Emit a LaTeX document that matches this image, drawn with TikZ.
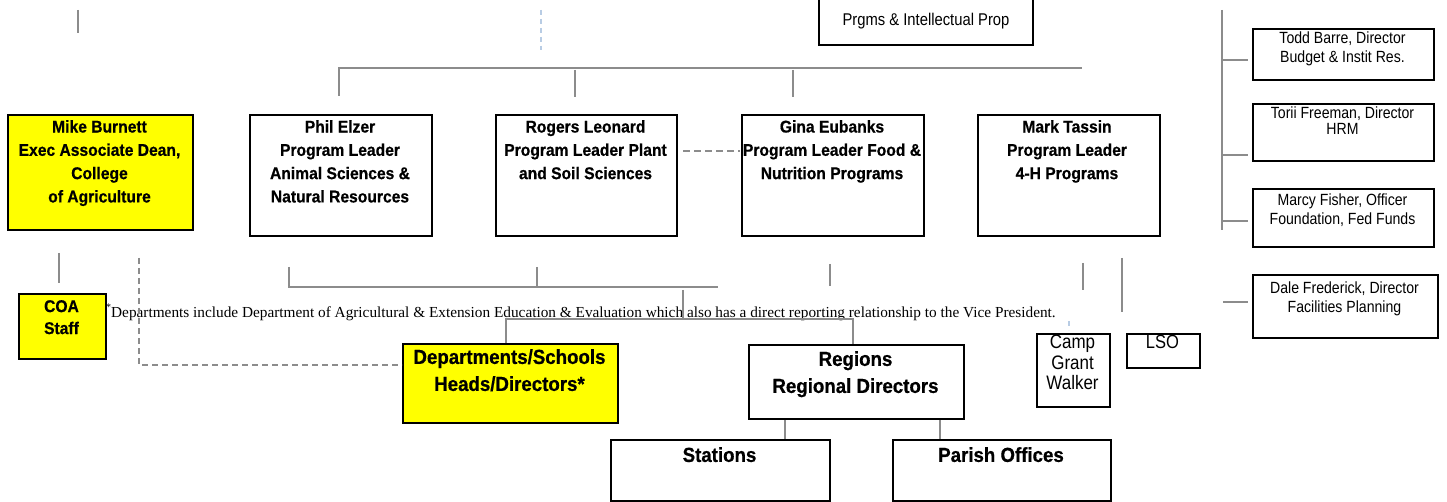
\documentclass[tikz,border=0pt]{standalone}
\usepackage{fontspec}
\newfontfamily\sansn[FakeStretch=0.87]{Liberation Sans}
\newfontfamily\sansb[FakeStretch=0.92, BoldFeatures={FakeBold=0.6}]{Liberation Sans}
\newfontfamily\serifn{Liberation Serif}
\definecolor{conn}{HTML}{8C8C8C}
\definecolor{lblue}{HTML}{B8CCE4}
\definecolor{boxyellow}{HTML}{FFFF00}
\tikzset{
  box/.style={draw=black, line width=2pt, inner sep=0pt, anchor=north west},
  ybox/.style={box, fill=boxyellow},
  ttl/.style={anchor=north, inner sep=0pt, align=center, font=\sansb\bfseries\fontsize{17}{23.3}\selectfont},
  bigttl/.style={anchor=north, inner sep=0pt, align=center, font=\sansb\bfseries\fontsize{20.3}{27}\selectfont},
  sml/.style={anchor=north, inner sep=0pt, align=center, font=\sansn\fontsize{16.2}{19}\selectfont},
  conline/.style={draw=conn, line width=2.6pt},
  condash/.style={draw=conn, line width=2pt, dash pattern=on 6pt off 4pt},
  bluedash/.style={draw=lblue, line width=2pt, dash pattern=on 5pt off 4pt},
}
\begin{document}
\begin{tikzpicture}[x=1pt,y=-1pt]
\useasboundingbox (0,0) rectangle (1447,502);
\fill[white] (0,0) rectangle (1447,502);

% ---------- boxes ----------
\node[ybox, minimum width=185pt, minimum height=115pt] (mike) at (7,114) {};
\node[ttl] (miket) at (99.5,120) {Mike Burnett\\Exec Associate Dean,\\College\\of Agriculture};

\node[box, minimum width=182pt, minimum height=121pt] (phil) at (249,114) {};
\node[ttl] (philt) at (340,120) {Phil Elzer\\Program Leader\\Animal Sciences \&\\Natural Resources};

\node[box, minimum width=181pt, minimum height=121pt] (rogers) at (495,114) {};
\node[ttl] (rogerst) at (585.5,120) {Rogers Leonard\\Program Leader Plant\\and Soil Sciences};

\node[box, minimum width=182pt, minimum height=121pt] (gina) at (741,114) {};
\node[ttl] (ginat) at (832,120) {Gina Eubanks\\Program Leader Food \&\\Nutrition Programs};

\node[box, minimum width=182pt, minimum height=121pt] (mark) at (977,114) {};
\node[ttl] (markt) at (1067,120) {Mark Tassin\\Program Leader\\4-H Programs};

\node[ybox, minimum width=87pt, minimum height=65pt] (coa) at (18,293) {};
\node[ttl, font=\sansb\bfseries\fontsize{17}{22}\selectfont] (coat) at (61.5,300) {COA\\Staff};

\node[ybox, minimum width=215pt, minimum height=79pt] (dept) at (402,343) {};
\node[bigttl] (deptt) at (509.5,349) {Departments/Schools\\Heads/Directors*};

\node[box, minimum width=215pt, minimum height=74pt] (regions) at (748,344) {};
\node[bigttl] (regionst) at (855.5,351) {Regions\\Regional Directors};

\node[box, minimum width=219pt, minimum height=61pt] (stations) at (610,439) {};
\node[bigttl] (stationst) at (719.5,447) {Stations};

\node[box, minimum width=218pt, minimum height=61pt] (parish) at (892,439) {};
\node[bigttl] (parisht) at (1001,447) {Parish Offices};

\node[box, minimum width=73pt, minimum height=73pt] (camp) at (1036,333) {};
\node[sml, font=\sansn\fontsize{19.5}{20.5}\selectfont] (campt) at (1072.5,335) {Camp\\Grant\\Walker};

\node[box, minimum width=73pt, minimum height=34pt] (lso) at (1126,333) {};
\node[sml, font=\sansn\fontsize{19}{20}\selectfont] (lsot) at (1162.5,335) {LSO};

\node[box, minimum width=181pt, minimum height=51pt] (todd) at (1252,28) {};
\node[sml] (toddt) at (1342.5,32) {Todd Barre, Director\\Budget \& Instit Res.};

\node[box, minimum width=181pt, minimum height=57pt] (torii) at (1252,103) {};
\node[sml, font=\sansn\fontsize{16.2}{15.5}\selectfont] (toriit) at (1342.5,107) {Torii Freeman, Director\\HRM};

\node[box, minimum width=181pt, minimum height=58pt] (marcy) at (1252,188) {};
\node[sml] (marcyt) at (1342.5,194) {Marcy Fisher, Officer\\Foundation, Fed Funds};

\node[box, minimum width=185pt, minimum height=63pt] (dale) at (1252,274) {};
\node[sml] (dalet) at (1344.5,282) {Dale Frederick, Director\\Facilities Planning};

% open-top box
\node[inner sep=0pt, anchor=north west, minimum width=214pt, minimum height=50pt] (prgms) at (819,-5) {};
\draw[black, line width=2pt] (prgms.north west) -- (prgms.south west) -- (prgms.south east) -- (prgms.north east);
\node[sml, font=\sansn\fontsize{17}{19}\selectfont] (prgmst) at (926,13) {Prgms \& Intellectual Prop};

% footnote
\node[anchor=base west, inner sep=0pt, font=\serifn\fontsize{15.3}{18}\selectfont] (note) at (106,317)
  {\raisebox{6pt}{\fontsize{10}{10}\selectfont *}Departments include Department of Agricultural \& Extension Education \& Evaluation which also has a direct reporting relationship to the Vice President.};

% ---------- connectors ----------
% top stubs
\coordinate (s1a) at (78,10); \coordinate (s1b) at (78,33);
\draw[conline] (s1a) -- (s1b);
\coordinate (b1a) at (541,10); \coordinate (b1b) at (541,50);
\draw[bluedash] (b1a) -- (b1b);

% top bar
\coordinate (tbl) at (339,68); \coordinate (tbr) at (1082,68);
\coordinate (t1) at (339,96); \coordinate (t2a) at (575,70); \coordinate (t2) at (575,97);
\coordinate (t3a) at (793,70); \coordinate (t3) at (793,97);
\draw[conline] (t1) -- (tbl) -- (tbr);
\draw[conline] (t2a) -- (t2);
\draw[conline] (t3a) -- (t3);

% dashed rogers - gina
\coordinate (rg1) at (683,151); \coordinate (rg2) at (740,151);
\draw[condash, dash pattern=on 7pt off 4pt] (rg1) -- (rg2);

% Mike -> COA stub
\coordinate (mc1) at (59,253); \coordinate (mc2) at (59,283);
\draw[conline] (mc1) -- (mc2);

% dashed Mike -> Departments
\coordinate (md1) at (139,258); \coordinate (md2) at (139,365);
\draw[condash] (md1) -- (md2) -- (md2 -| dept.west);

% right vertical and ticks
\coordinate (rv1) at (1222,10); \coordinate (rv2) at (1222,230);
\draw[conline] (rv1) -- (rv2);
\coordinate (tk1) at (1222,60); \coordinate (tk2) at (1222,155); \coordinate (tk3) at (1222,221);
\draw[conline] (tk1) -- ([xshift=-4pt]tk1 -| todd.west);
\draw[conline] (tk2) -- ([xshift=-4pt]tk2 -| torii.west);
\draw[conline] (tk3) -- ([xshift=-4pt]tk3 -| marcy.west);
\coordinate (tk4) at (1223,302);
\draw[conline] (tk4) -- ([xshift=-4pt]tk4 -| dale.west);

% lower bracket
\coordinate (lb1) at (289,267); \coordinate (lb2) at (289,287); \coordinate (lb3) at (718,287);
\coordinate (lb4) at (537,267); \coordinate (lb5) at (537,287);
\draw[conline] (lb1) -- (lb2) -- (lb3);
\draw[conline] (lb4) -- (lb5);
\coordinate (lc1) at (683,290); \coordinate (lc2) at (683,319);
\coordinate (lcl) at (506,319); \coordinate (lcr) at (853,319);
\draw[conline] (lc1) -- (lc2);
\draw[conline] (dept.north -| lcl) -- (lcl) -- (lcr) -- (regions.north -| lcr);

% other stubs
\coordinate (g1) at (830,264); \coordinate (g2) at (830,286);
\draw[conline] (g1) -- (g2);
\coordinate (m1) at (1083,263); \coordinate (m2) at (1083,290);
\draw[conline] (m1) -- (m2);
\coordinate (m3) at (1122,258); \coordinate (m4) at (1122,312);
\draw[conline] (m3) -- (m4);
\coordinate (cb1) at (1069,321); \coordinate (cb2) at (1069,330);
\draw[bluedash] (cb1) -- (cb2);

% regions -> stations / parish
\coordinate (rs) at (785,420); \coordinate (rp) at (940,420);
\draw[conline] (rs) -- (rs |- stations.north);
\draw[conline] (rp) -- (rp |- parish.north);
\end{tikzpicture}
\end{document}
